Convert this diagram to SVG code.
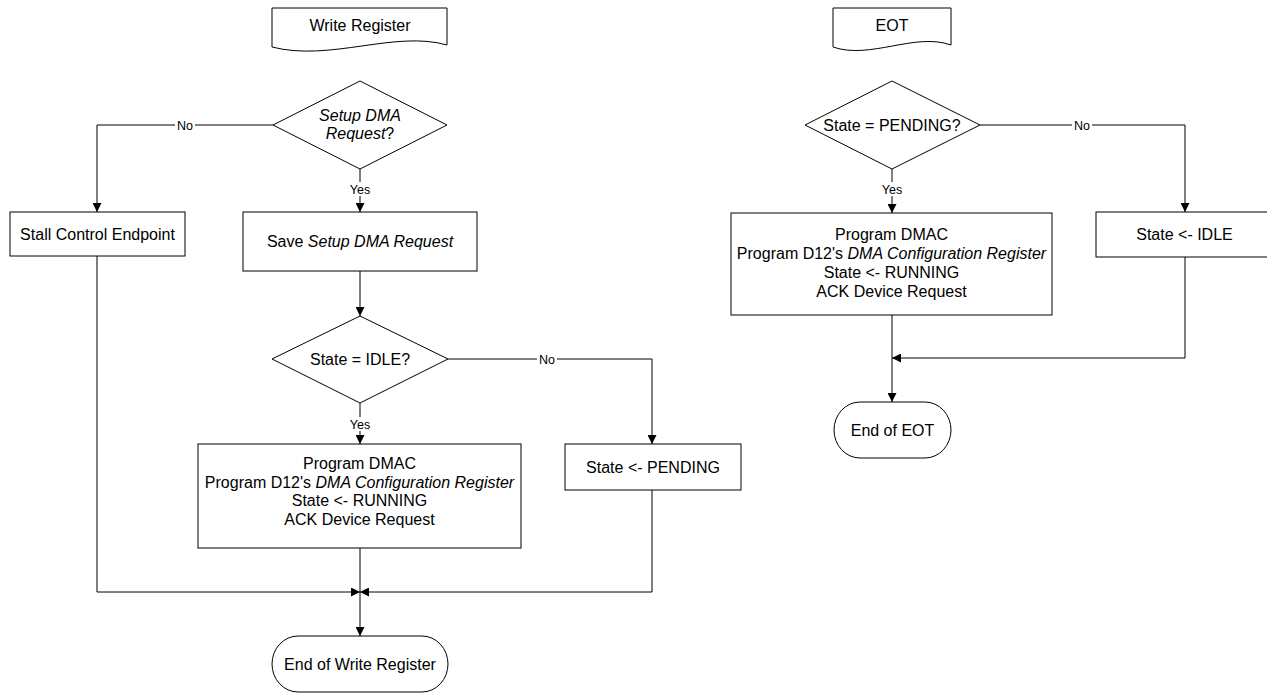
<svg xmlns="http://www.w3.org/2000/svg" width="1267" height="694" viewBox="0 0 1267 694">
<style>
.s{fill:#fff;stroke:#000;stroke-width:1}
.t{font-family:"Liberation Sans",Arial,sans-serif;font-size:16px;fill:#000;text-anchor:middle}
.l{font-family:"Liberation Sans",Arial,sans-serif;font-size:12.5px;fill:#000;text-anchor:middle}
.i{font-style:italic}
.c{fill:none;stroke:#000;stroke-width:1}
</style>
<defs>
<marker id="a" viewBox="0 0 10 10" refX="10" refY="5" markerWidth="9" markerHeight="9" markerUnits="userSpaceOnUse" orient="auto">
<path d="M0,0 L10,5 L0,10 Z" fill="#000"/>
</marker>
</defs>
<rect width="1267" height="694" fill="#fff"/>
<g id="connectors">
<path class="c" d="M273,125 H97 V212" marker-end="url(#a)"/>
<path class="c" d="M360,169 V212" marker-end="url(#a)"/>
<path class="c" d="M360,271 V316" marker-end="url(#a)"/>
<path class="c" d="M448,359 H652 V444" marker-end="url(#a)"/>
<path class="c" d="M360,403 V444" marker-end="url(#a)"/>
<path class="c" d="M97,256 V592 H360" marker-end="url(#a)"/>
<path class="c" d="M652,490 V592 H360" marker-end="url(#a)"/>
<path class="c" d="M360,548 V636" marker-end="url(#a)"/>
<path class="c" d="M980,125 H1185 V212" marker-end="url(#a)"/>
<path class="c" d="M892,169 V213" marker-end="url(#a)"/>
<path class="c" d="M1185,257 V358 H892" marker-end="url(#a)"/>
<path class="c" d="M892,315 V402" marker-end="url(#a)"/>
<rect x="175" y="118" width="20" height="14" fill="#fff"/>
<text class="l" x="185" y="129.5">No</text>
<rect x="348" y="182" width="24" height="14" fill="#fff"/>
<text class="l" x="360" y="193.5">Yes</text>
<rect x="537" y="352" width="20" height="14" fill="#fff"/>
<text class="l" x="547" y="363.5">No</text>
<rect x="348" y="417" width="24" height="14" fill="#fff"/>
<text class="l" x="360" y="428.5">Yes</text>
<rect x="1072" y="118" width="20" height="14" fill="#fff"/>
<text class="l" x="1082" y="129.5">No</text>
<rect x="880" y="182" width="24" height="14" fill="#fff"/>
<text class="l" x="892" y="193.5">Yes</text>
</g>
<g id="write-register">
<path class="s" d="M272,8 H447 V45 C395,30 330,62 272,47 Z"/>
<text class="t" x="360" y="31">Write Register</text>
</g>
<g id="setup-dma-request">
<path class="s" d="M360,81 L447,125 L360,169 L273,125 Z"/>
<text class="t" x="360" y="121"><tspan class="i">Setup DMA</tspan></text>
<text class="t" x="360" y="139"><tspan class="i">Request</tspan>?</text>
</g>
<g id="stall-control-endpoint">
<rect class="s" x="10" y="212" width="175" height="44"/>
<text class="t" x="97.5" y="240">Stall Control Endpoint</text>
</g>
<g id="save-setup">
<rect class="s" x="243" y="212" width="234" height="59"/>
<text class="t" x="360" y="247">Save <tspan class="i">Setup DMA Request</tspan></text>
</g>
<g id="state-idle">
<path class="s" d="M360,316 L448,359 L360,403 L272,359 Z"/>
<text class="t" x="360" y="365">State = IDLE?</text>
</g>
<g id="program-dmac-1">
<rect class="s" x="198" y="444" width="323" height="104"/>
<text class="t" x="359.5" y="469">Program DMAC</text>
<text class="t" x="359.5" y="487.5">Program D12's <tspan class="i">DMA Configuration Register</tspan></text>
<text class="t" x="359.5" y="506">State &lt;- RUNNING</text>
<text class="t" x="359.5" y="524.5">ACK Device Request</text>
</g>
<g id="state-pending-set">
<rect class="s" x="565" y="444" width="176" height="46"/>
<text class="t" x="653" y="472.5">State &lt;- PENDING</text>
</g>
<g id="end-write-register">
<rect class="s" x="272" y="636" width="176" height="56" rx="26" ry="28"/>
<text class="t" x="360" y="669.5">End of Write Register</text>
</g>
<g id="eot">
<path class="s" d="M833,8 H951 V45 C915,32 870,60 833,47 Z"/>
<text class="t" x="892" y="31">EOT</text>
</g>
<g id="state-pending-q">
<path class="s" d="M892,81 L980,125 L892,169 L805,125 Z"/>
<text class="t" x="892" y="130.5">State = PENDING?</text>
</g>
<g id="program-dmac-2">
<rect class="s" x="731" y="213" width="321" height="102"/>
<text class="t" x="891.5" y="240">Program DMAC</text>
<text class="t" x="891.5" y="259">Program D12's <tspan class="i">DMA Configuration Register</tspan></text>
<text class="t" x="891.5" y="278">State &lt;- RUNNING</text>
<text class="t" x="891.5" y="297">ACK Device Request</text>
</g>
<g id="state-idle-set">
<rect class="s" x="1096" y="212" width="177" height="45"/>
<text class="t" x="1184.5" y="240">State &lt;- IDLE</text>
</g>
<g id="end-eot">
<rect class="s" x="834" y="402" width="117" height="56" rx="26" ry="28"/>
<text class="t" x="892.5" y="435.5">End of EOT</text>
</g>
</svg>
